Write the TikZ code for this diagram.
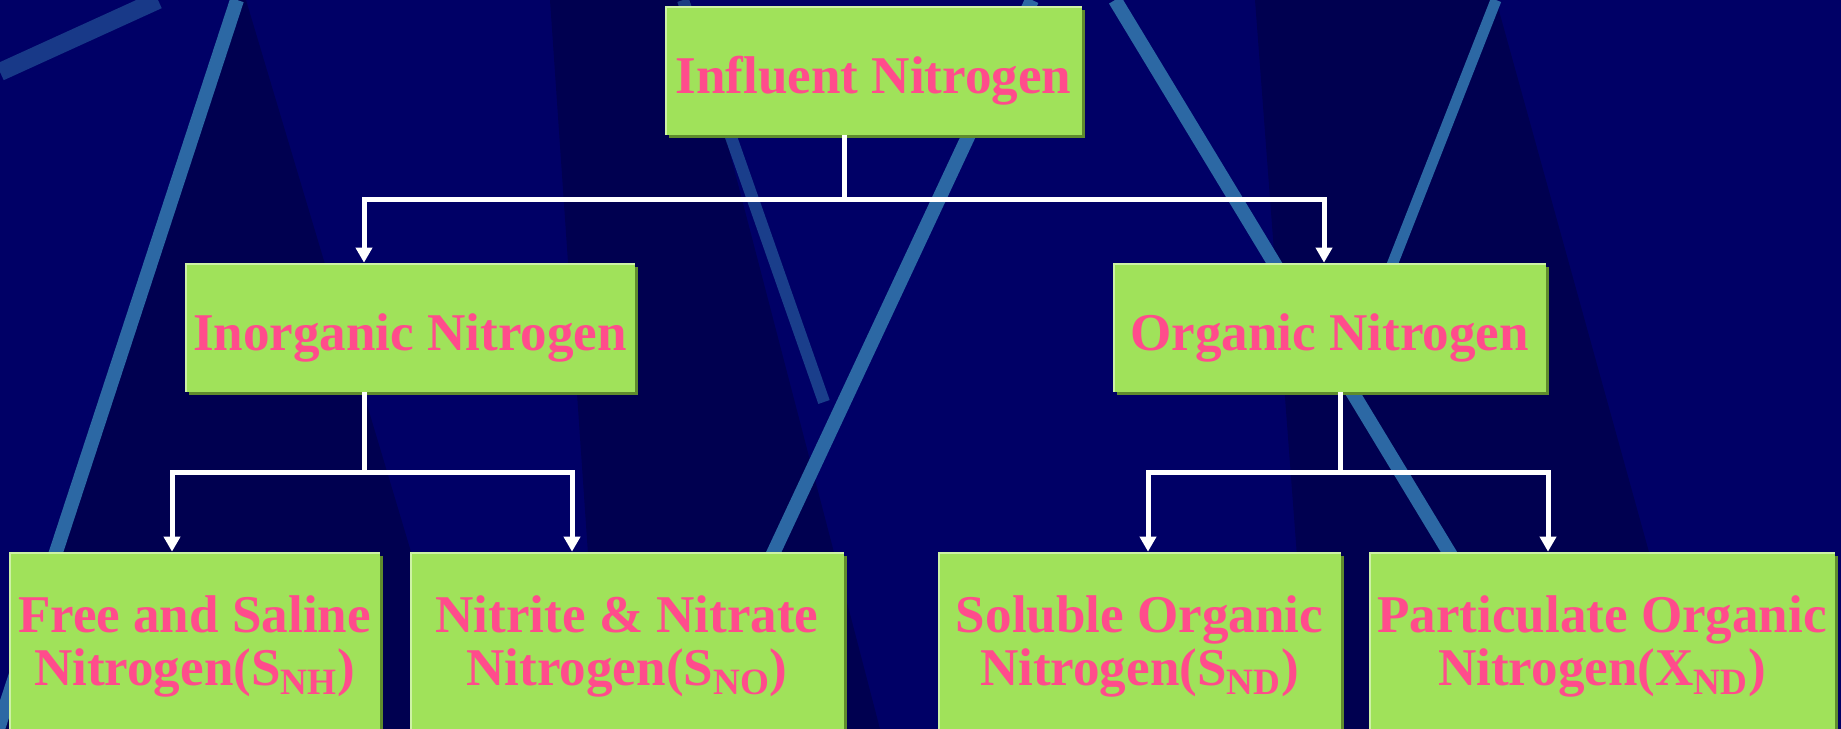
\documentclass[tikz,border=0pt]{standalone}
\usepackage{fontspec}
\setmainfont{Liberation Serif}
\usetikzlibrary{arrows.meta,shadows}
\definecolor{slidenavy}{RGB}{0,0,102}
\definecolor{darknavy}{RGB}{0,0,80}
\definecolor{stripeblue}{RGB}{44,104,164}
\definecolor{boxgreen}{RGB}{160,226,90}
\definecolor{boxlight}{RGB}{205,242,165}
\definecolor{boxshadow}{RGB}{95,140,45}
\definecolor{textpink}{RGB}{255,76,140}
\begin{document}
\begin{tikzpicture}[x=0.02cm, y=-0.02cm,
    box/.style={fill=boxgreen, inner sep=0pt, text=textpink, align=center,
        font=\fontsize{30.2}{30.2}\selectfont\bfseries,
        drop shadow={shadow xshift=0.07cm, shadow yshift=-0.07cm, fill=boxshadow, opacity=1},
        path picture={\draw[boxlight, line width=0.08cm] (path picture bounding box.south west) |- (path picture bounding box.north east);}},
    onebox/.style={box, text height=0.94cm, text depth=0cm, minimum height=2.58cm},
    twobox/.style={box, minimum height=3.76cm},
    link/.style={white, line width=0.1cm},
    arr/.style={link, -{Triangle[width=0.32cm, length=0.3cm]}},
    stripe/.style={stripeblue, line width=0.28cm}]
    \useasboundingbox (0,0) rectangle (1841,729);
    \clip (0,0) rectangle (1841,729);
    \fill[slidenavy] (0,0) rectangle (1841,729);
    \fill[darknavy] (237,0) -- (246,0) -- (464,729) -- (-2,729) -- cycle;
    \fill[darknavy] (550,0) -- (690,0) -- (880,729) -- (600,729) -- cycle;
    \fill[darknavy] (1255,0) -- (1496,0) -- (1698,729) -- (1310,729) -- cycle;
    \draw[stripe, stripeblue!55!slidenavy, line width=0.36cm] (0,72) -- (158,0);
    \draw[stripe] (237,0) -- (-2,729);
    \draw[stripe, line width=0.24cm, opacity=0.6] (683,0) -- (824,402);
    \draw[stripe] (1032,0) -- (691,729);
    \draw[stripe] (1115,0) -- (1556,729);
    \draw[stripe, line width=0.22cm] (1496,0) -- (1392,265);

    \node[onebox, minimum width=8.34cm] (infl) at (873.5,70.5) {Influent Nitrogen};
    \node[onebox, minimum width=9cm] (inorg) at (410,327.5) {Inorganic Nitrogen};
    \node[onebox, minimum width=8.66cm] (org) at (1329.5,327.5) {Organic Nitrogen};
    \node[twobox, minimum width=7.42cm] (free) at (194.5,646) {Free and Saline\\Nitrogen(S\textsubscript{NH})};
    \node[twobox, minimum width=8.68cm] (nitr) at (627,646) {Nitrite \& Nitrate\\Nitrogen(S\textsubscript{NO})};
    \node[twobox, minimum width=8.06cm] (sol) at (1139.5,646) {Soluble Organic\\Nitrogen(S\textsubscript{ND})};
    \node[twobox, minimum width=9.32cm] (part) at (1602,646) {Particulate Organic\\Nitrogen(X\textsubscript{ND})};

    \coordinate (f0) at (844,200);
    \coordinate (f0l) at (364,200);
    \coordinate (f0r) at (1324,200);
    \coordinate (f1) at (364,472);
    \coordinate (f1l) at (172,472);
    \coordinate (f1r) at (572,472);
    \coordinate (f2) at (1340,472);
    \coordinate (f2l) at (1148,472);
    \coordinate (f2r) at (1548,472);

    \draw[link] (infl.south -| f0) -- (f0);
    \draw[arr] (f0) -| (inorg.north -| f0l);
    \draw[arr] (f0) -| (org.north -| f0r);
    \draw[link] (inorg.south -| f1) -- (f1);
    \draw[arr] (f1) -| (free.north -| f1l);
    \draw[arr] (f1) -| (nitr.north -| f1r);
    \draw[link] (org.south -| f2) -- (f2);
    \draw[arr] (f2) -| (sol.north -| f2l);
    \draw[arr] (f2) -| (part.north -| f2r);
\end{tikzpicture}
\end{document}
